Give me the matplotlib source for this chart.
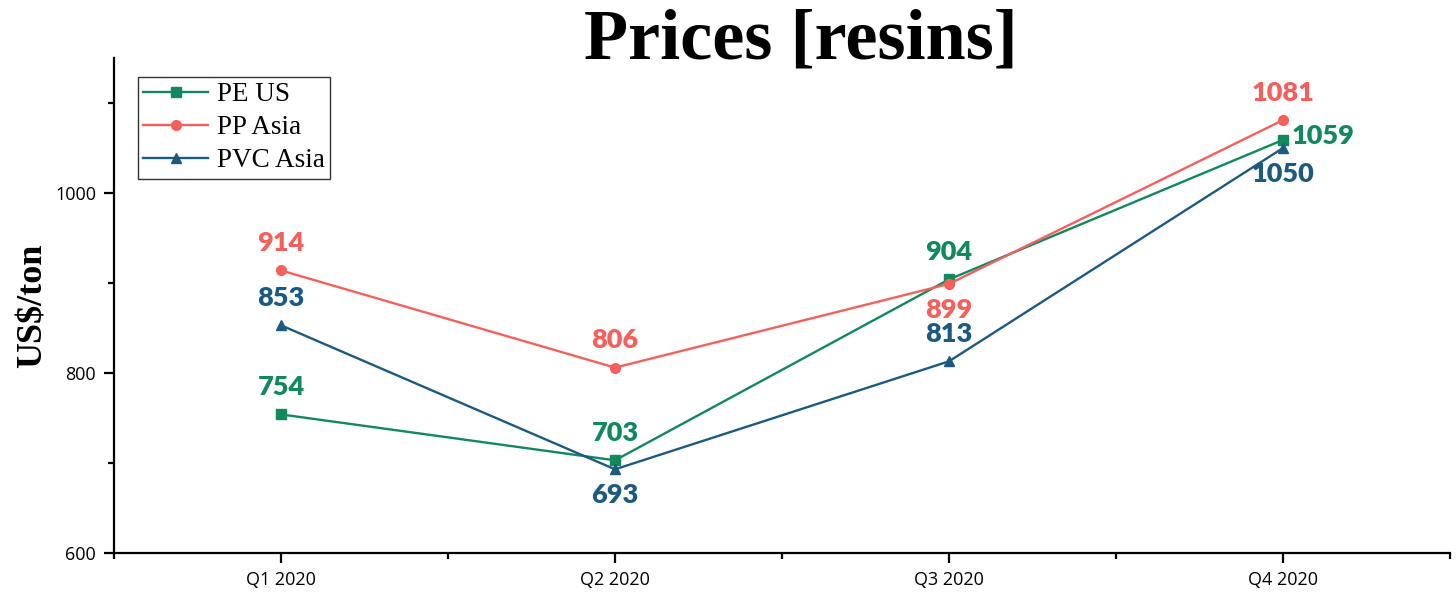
import matplotlib
matplotlib.use("Agg")
import matplotlib.pyplot as plt
from matplotlib.ticker import MultipleLocator

# Quarterly resin prices (US$/ton)
quarters = ["Q1 2020", "Q2 2020", "Q3 2020", "Q4 2020"]
pe_us = [754, 703, 904, 1059]
pp_asia = [914, 806, 899, 1081]
pvc_asia = [853, 693, 813, 1050]

# where each value label goes relative to its point
pe_pos = ["above", "above", "above", "right"]
pp_pos = ["above", "above", "below", "above"]
pvc_pos = ["above", "below", "above", "below"]

green = "#12895d"
red = "#f4605c"
blue = "#1c5a80"

label_font = ["Lato", "DejaVu Sans"]
serif = ["Liberation Serif", "DejaVu Serif"]


def add_labels(ax, xs, values, positions, color):
    """Write the value next to every point."""
    for x, v, pos in zip(xs, values, positions):
        if pos == "above":
            off, ha, va = (0, 11), "center", "bottom"
        elif pos == "below":
            off, ha, va = (0, -10), "center", "top"
        else:
            off, ha, va = (6, 3), "left", "center"
        ax.annotate(str(v), (x, v), xytext=off, textcoords="offset points",
                    ha=ha, va=va, color=color, fontsize=19.5, fontweight="heavy",
                    family=label_font)


def main():
    fig = plt.figure(figsize=(14.56, 5.96), dpi=100)
    ax = fig.add_axes([0.0783, 0.0721, 0.9176, 0.8306])

    xs = list(range(len(quarters)))
    ax.plot(xs, pe_us, color=green, lw=1.7, marker="s", ms=6.5, label="PE US")
    ax.plot(xs, pp_asia, color=red, lw=1.7, marker="o", ms=7, label="PP Asia")
    ax.plot(xs, pvc_asia, color=blue, lw=1.7, marker="^", ms=7.5, label="PVC Asia")

    add_labels(ax, xs, pe_us, pe_pos, green)
    add_labels(ax, xs, pp_asia, pp_pos, red)
    add_labels(ax, xs, pvc_asia, pvc_pos, blue)

    ax.set_xlim(-0.5, 3.5)
    ax.set_ylim(600, 1150)
    ax.set_xticks(xs)
    ax.set_xticklabels(quarters)
    ax.xaxis.set_minor_locator(MultipleLocator(0.5))
    ax.yaxis.set_major_locator(MultipleLocator(200))
    ax.yaxis.set_minor_locator(MultipleLocator(100))

    for side in ["top", "right"]:
        ax.spines[side].set_visible(False)
    for side in ["left", "bottom"]:
        ax.spines[side].set_linewidth(1.6)

    ax.tick_params(which="major", direction="out", length=7, width=1.6,
                   labelsize=13, pad=6)
    ax.tick_params(which="minor", direction="out", length=4, width=1.6)
    for lbl in ax.get_xticklabels() + ax.get_yticklabels():
        lbl.set_family(["Open Sans", "DejaVu Sans"])

    ax.set_ylabel("US$/ton", fontsize=26, fontweight="bold", family=serif,
                  labelpad=4)

    fig.text(0.55, 0.985, "Prices [resins]", ha="center", va="top",
             fontsize=52, fontweight="bold", family=serif)

    leg = ax.legend(loc="upper left", bbox_to_anchor=(0.018, 0.962),
                    prop={"family": serif, "size": 19.5}, frameon=True,
                    fancybox=False, edgecolor="black", handlelength=2.4,
                    borderpad=0.2, labelspacing=0.3, handletextpad=0.3,
                    borderaxespad=0)
    leg.get_frame().set_linewidth(1.0)

    fig.savefig("out.png", dpi=100)


if __name__ == "__main__":
    main()
